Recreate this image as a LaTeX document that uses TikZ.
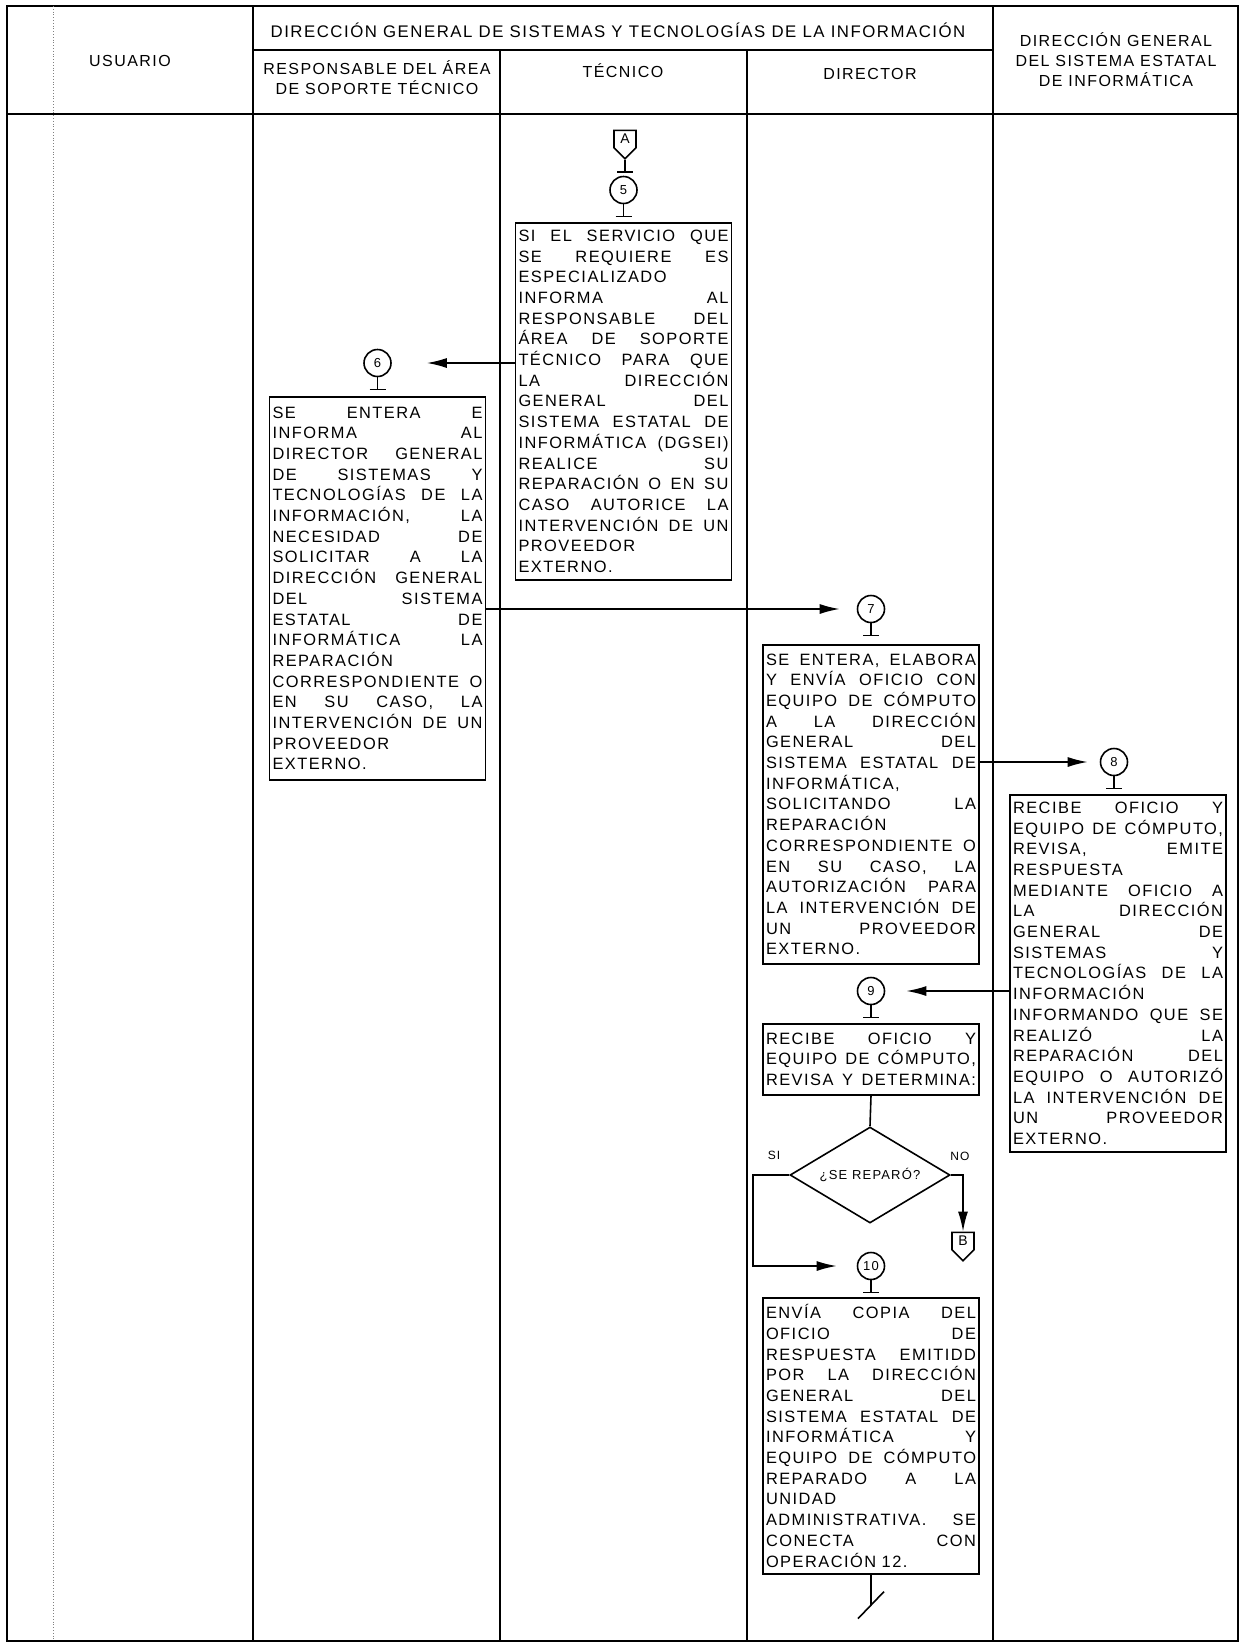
\documentclass[tikz,border=0pt]{standalone}
\usepackage{fontspec}
\setmainfont{Liberation Sans}
\newfontfamily\flowfont{Liberation Sans}[LetterSpace=9]
\usetikzlibrary{arrows.meta, shapes.geometric, shapes.symbols}

% justified line of a box
\newlength{\cajaancho}
\setlength{\cajaancho}{105pt}
\newcommand{\jline}[1]{\leavevmode\hbox to \cajaancho{\spaceskip=.3em plus 1fil\relax\xspaceskip=\spaceskip #1}}
\newcommand{\cajafont}{\flowfont\fontsize{8.2pt}{10.35pt}\selectfont}

\begin{document}
\begin{tikzpicture}[
    x=0.5pt, y=-0.5pt,
    caja/.style={draw, line width=0.8pt, text width=\cajaancho, inner sep=1.5pt, align=left, anchor=north, font=\cajafont},
    conector/.style={circle, draw, line width=0.8pt, minimum size=13.5pt, inner sep=0pt, font=\flowfont\fontsize{6.5pt}{7pt}\selectfont},
    salto/.style={draw, line width=0.8pt, signal, signal to=south, signal pointer angle=90, minimum width=11pt, minimum height=11.5pt, inner sep=0.5pt, font=\flowfont\fontsize{7pt}{8pt}\selectfont},
    decision/.style={diamond, draw, line width=0.8pt, aspect=2, minimum width=80pt, minimum height=48pt, inner sep=0pt, font=\flowfont\fontsize{6.5pt}{7pt}\selectfont},
    titulo/.style={align=center, font=\flowfont\fontsize{8pt}{10pt}\selectfont},
    etiqueta/.style={font=\flowfont\fontsize{6pt}{7pt}\selectfont},
    flecha/.style={-{Latex[length=10pt,width=5pt]}, line width=0.8pt},
    linea/.style={line width=0.8pt},
    marco/.style={line width=1.1pt}
]
    \useasboundingbox (0,0) rectangle (1245,1645);

    % table
    \draw[marco] (7,6) rectangle (1238,1641);
    \draw[marco] (7,114) -- (1238,114);
    \draw[marco] (253,50) -- (993,50);
    \draw[marco] (253,6) -- (253,1641);
    \draw[marco] (993,6) -- (993,1641);
    \draw[marco] (500,50) -- (500,1641);
    \draw[marco] (747,50) -- (747,1641);
    \draw[gray, densely dotted, thin] (53,6) -- (53,1641);

    \node[titulo] (hUsuario) at (130,61) {USUARIO};
    \node[titulo, font=\flowfont\fontsize{8.4pt}{10pt}\selectfont] (hDgsti) at (618,30) {DIRECCIÓN GENERAL DE SISTEMAS Y TECNOLOGÍAS DE LA INFORMACIÓN};
    \node[titulo] (hResp) at (377,78) {RESPONSABLE DEL ÁREA\\DE SOPORTE TÉCNICO};
    \node[titulo] (hTec) at (623,71) {TÉCNICO};
    \node[titulo] (hDir) at (870,74) {DIRECTOR};
    \node[titulo] (hDgsei) at (1116,60) {DIRECCIÓN GENERAL\\DEL SISTEMA ESTATAL\\DE INFORMÁTICA};

    % boxes
    \node[caja, minimum height=178.5pt] (b5) at (623.5,222) {%
        \jline{SI EL SERVICIO QUE}\\ \jline{SE REQUIERE ES}\\ ESPECIALIZADO\\
        \jline{INFORMA AL}\\ \jline{RESPONSABLE DEL}\\ \jline{ÁREA DE SOPORTE}\\
        \jline{TÉCNICO PARA QUE}\\ \jline{LA DIRECCIÓN}\\ \jline{GENERAL DEL}\\
        \jline{SISTEMA ESTATAL DE}\\ \jline{INFORMÁTICA (DGSEI)}\\ \jline{REALICE SU}\\
        \jline{REPARACIÓN O EN SU}\\ \jline{CASO AUTORICE LA}\\ \jline{INTERVENCIÓN DE UN}\\
        PROVEEDOR\\ EXTERNO.};
    \node[caja, minimum height=191.5pt] (b6) at (377.5,396) {%
        \jline{SE ENTERA E}\\ \jline{INFORMA AL}\\ \jline{DIRECTOR GENERAL}\\
        \jline{DE SISTEMAS Y}\\ \jline{TECNOLOGÍAS DE LA}\\ \jline{INFORMACIÓN, LA}\\
        \jline{NECESIDAD DE}\\ \jline{SOLICITAR A LA}\\ \jline{DIRECCIÓN GENERAL}\\
        \jline{DEL SISTEMA}\\ \jline{ESTATAL DE}\\ \jline{INFORMÁTICA LA}\\
        REPARACIÓN\\ \jline{CORRESPONDIENTE O}\\ \jline{EN SU CASO, LA}\\
        \jline{INTERVENCIÓN DE UN}\\ PROVEEDOR\\ EXTERNO.};
    \node[caja, minimum height=159.5pt] (b7) at (871,644) {%
        \jline{SE ENTERA, ELABORA}\\ \jline{Y ENVÍA OFICIO CON}\\ \jline{EQUIPO DE CÓMPUTO}\\
        \jline{A LA DIRECCIÓN}\\ \jline{GENERAL DEL}\\ \jline{SISTEMA ESTATAL DE}\\
        INFORMÁTICA,\\ \jline{SOLICITANDO LA}\\ REPARACIÓN\\
        \jline{CORRESPONDIENTE O}\\ \jline{EN SU CASO, LA}\\ \jline{AUTORIZACIÓN PARA}\\
        \jline{LA INTERVENCIÓN DE}\\ \jline{UN PROVEEDOR}\\ EXTERNO.};
    \node[caja, minimum height=178.5pt] (b8) at (1118,794) {%
        \jline{RECIBE OFICIO Y}\\ \jline{EQUIPO DE CÓMPUTO,}\\ \jline{REVISA, EMITE}\\
        RESPUESTA\\ \jline{MEDIANTE OFICIO A}\\ \jline{LA DIRECCIÓN}\\
        \jline{GENERAL DE}\\ \jline{SISTEMAS Y}\\ \jline{TECNOLOGÍAS DE LA}\\
        INFORMACIÓN\\ \jline{INFORMANDO QUE SE}\\ \jline{REALIZÓ LA}\\
        \jline{REPARACIÓN DEL}\\ \jline{EQUIPO O AUTORIZÓ}\\ \jline{LA INTERVENCIÓN DE}\\
        \jline{UN PROVEEDOR}\\ EXTERNO.};
    \node[caja, minimum height=35.5pt] (b9) at (871,1023) {%
        \jline{RECIBE OFICIO Y}\\ \jline{EQUIPO DE CÓMPUTO,}\\ \jline{REVISA Y DETERMINA:}};
    \node[caja, minimum height=138pt] (b10) at (871,1297) {%
        \jline{ENVÍA COPIA DEL}\\ \jline{OFICIO DE}\\ \jline{RESPUESTA EMITIDD}\\
        \jline{POR LA DIRECCIÓN}\\ \jline{GENERAL DEL}\\ \jline{SISTEMA ESTATAL DE}\\
        \jline{INFORMÁTICA Y}\\ \jline{EQUIPO DE CÓMPUTO}\\ \jline{REPARADO A LA}\\
        UNIDAD\\ \jline{ADMINISTRATIVA. SE}\\ \jline{CONECTA CON}\\ OPERACIÓN 12.};

    % connectors
    \foreach \n/\x/\y in {5/623.5/190, 6/377.5/363, 7/871/609, 8/1114/762, 9/871/991, 10/871/1266} {
        \node[conector] (c\n) at (\x,\y) {\n};
        \draw[linea] (c\n.south) -- ++(0,12) ++(-8,0) -- ++(16,0);
    }

    \node[salto] (conA) at (625,139) {A};
    \draw[linea] (conA.south) -- ++(0,12) ++(-8,0) -- ++(16,0);
    \node[salto] (conB) at (963,1241) {B};

    \node[decision] (dec) at (870,1175) {¿SE REPARÓ?};
    \node[etiqueta] (si) at (774,1155) {SI};
    \node[etiqueta] (no) at (960,1156) {NO};

    % flow
    \draw[flecha] (b5.west |- c6) -- ([xshift=17.5pt]c6.east);
    \draw[flecha] (b6.east |- c7) -- ([xshift=-8.5pt]c7.west);
    \draw[flecha] (b7.east |- c8) -- ([xshift=-6pt]c8.west);
    \draw[flecha] (b8.west |- c9) -- ([xshift=10.5pt]c9.east);
    \draw[linea] (b9.south) -- (dec.north);
    \draw[flecha] (dec.east) -| (conB.north);
    \draw[flecha] (dec.west) -- ++(-36,0) |- ([xshift=-10pt]c10.west);
    \draw[linea] (b10.south) -- ++(0,30) coordinate (fin);
    \draw[linea] ([shift={(-13,14)}]fin) -- ([shift={(13,-13)}]fin);
\end{tikzpicture}
\end{document}
